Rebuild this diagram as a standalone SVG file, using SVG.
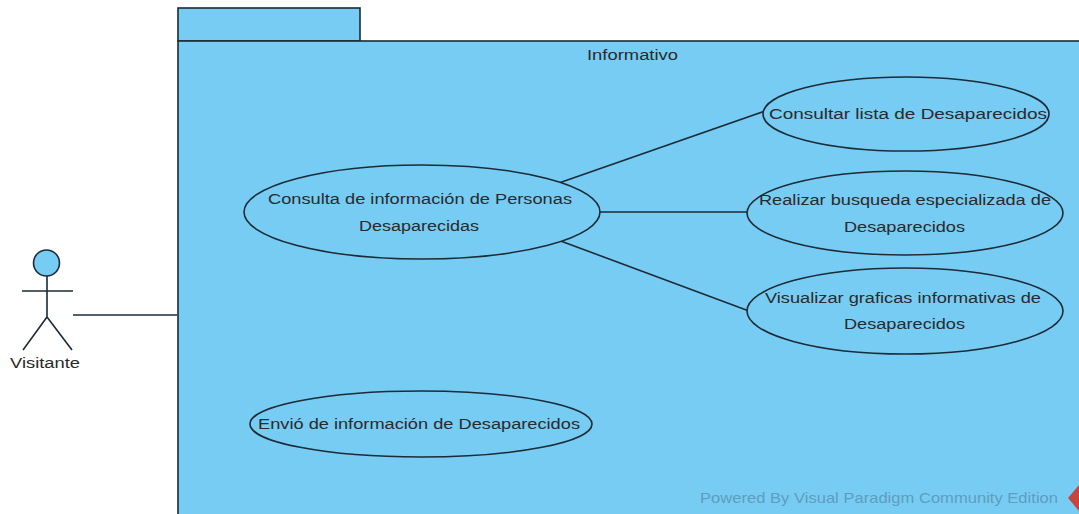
<svg xmlns="http://www.w3.org/2000/svg" width="1079" height="514" viewBox="0 0 1079 514">
<style>
.s{fill:#77ccf4;stroke:#1c2b36;stroke-width:1.6}
.l{fill:none;stroke:#1c2b36;stroke-width:1.6}
text{font-family:"Liberation Sans",Arial,sans-serif;font-size:15.500px;fill:#2a2a2a}
</style>
<rect width="1079" height="514" fill="#fff"/>
<g id="package">
<rect class="s" x="178" y="8" width="182" height="33"/>
<rect class="s" x="178" y="41" width="910" height="480"/>
<text x="587" y="60" textLength="91" lengthAdjust="spacingAndGlyphs">Informativo</text>
</g>
<g id="connectors">
<path class="l" d="M556 184L765 111"/>
<path class="l" d="M600 212H748"/>
<path class="l" d="M558 240L749 311"/>
<path class="l" d="M73 315H177"/>
</g>
<g id="actor">
<circle class="s" cx="46.500" cy="263" r="13"/>
<path class="l" d="M47 276V317M22 291H73M47 317L23 350M47 317L72 350"/>
<text x="10" y="368" textLength="70" lengthAdjust="spacingAndGlyphs">Visitante</text>
</g>
<g id="uc1">
<ellipse class="s" cx="422" cy="212" rx="178" ry="47"/>
<text x="268" y="204" textLength="304" lengthAdjust="spacingAndGlyphs">Consulta de información de Personas</text>
<text x="359" y="231" textLength="120" lengthAdjust="spacingAndGlyphs">Desaparecidas</text>
</g>
<g id="uc2">
<ellipse class="s" cx="906" cy="114" rx="143" ry="37"/>
<text x="769" y="119" textLength="278" lengthAdjust="spacingAndGlyphs">Consultar lista de Desaparecidos</text>
</g>
<g id="uc3">
<ellipse class="s" cx="905" cy="213" rx="158" ry="42"/>
<text x="759" y="205" textLength="292" lengthAdjust="spacingAndGlyphs">Realizar busqueda especializada de</text>
<text x="844" y="232" textLength="121" lengthAdjust="spacingAndGlyphs">Desaparecidos</text>
</g>
<g id="uc4">
<ellipse class="s" cx="905" cy="311" rx="158" ry="43"/>
<text x="765" y="303" textLength="276" lengthAdjust="spacingAndGlyphs">Visualizar graficas informativas de</text>
<text x="844" y="329" textLength="121" lengthAdjust="spacingAndGlyphs">Desaparecidos</text>
</g>
<g id="uc5">
<ellipse class="s" cx="421" cy="424" rx="171" ry="33"/>
<text x="258" y="429" textLength="322" lengthAdjust="spacingAndGlyphs">Envió de información de Desaparecidos</text>
</g>
<g id="watermark">
<text x="700" y="503" textLength="358" lengthAdjust="spacingAndGlyphs" style="fill:#5f9dbd;font-size:15px">Powered By  Visual Paradigm Community Edition</text>
<path d="M1079 485L1068 498L1079 511Z" fill="#c8453f"/>
</g>
</svg>
